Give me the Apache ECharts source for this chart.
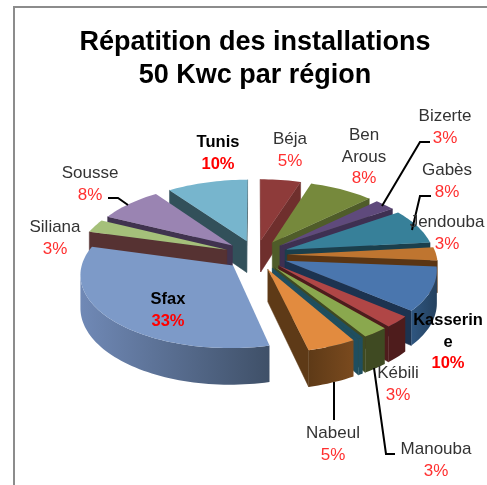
<!DOCTYPE html>
<html>
<head>
<meta charset="utf-8">
<title>Répatition des installations</title>
<style>
html,body{margin:0;padding:0;background:#fff;}
#pieChart{width:487px;height:485px;}
</style>
<script src="https://cdn.jsdelivr.net/npm/echarts@6/dist/echarts.min.js"></script>
</head>
<body>
<div id="pieChart"></div>
<script>
var titleText = 'Répatition des installations\n50 Kwc par région';
// clockwise from the top, the empty name is the thin unlabelled slice
var categories = ['Béja', 'Ben\nArous', 'Bizerte', 'Gabès', 'Jendouba', 'Kasserin\ne', 'Kébili', 'Manouba', '', 'Nabeul', 'Sfax', 'Siliana', 'Sousse', 'Tunis'];
// shares, the labels show them rounded
var values = [5, 8, 2.6, 8, 3, 10, 2.6, 2.5, 0.5, 4.7, 33.4, 3, 8, 10];
var boldNames = ['Kasserin\ne', 'Sfax', 'Tunis'];

var topColors = ['#8e3b3a', '#76893c', '#5f4a7c', '#378099', '#bf7530', '#4a76ae', '#b04646', '#8aa84e', '#1f4e5f', '#e28b3f', '#7d9ac8', '#a5c07a', '#9a84b2', '#77b5cd'];
var wallColors = ['#6f2f2d', '#4f5c29', '#3e3052', '#1b3f4c', '#5a3513', '#1c3350', '#4e1c1c', '#3f4a22', '#1f4e5f', '#5e3a17', '#3f5068', '#563232', '#40334f', '#32505a'];
var rimColors = [
    ['#7a3332', '#7a3332'], ['#4f5c29', '#4f5c29'], ['#3e3052', '#3e3052'], ['#1b3f4c', '#2b6072'],
    ['#5a3513', '#8a5522'], ['#2f5680', '#24415f'], ['#4e1c1c', '#4e1c1c'], ['#3f4a22', '#3f4a22'],
    ['#1f4e5f', '#1f4e5f'], ['#5e3a17', '#7a4a1e'], ['#7089b6', '#3f5068'], ['#563232', '#563232'],
    ['#40334f', '#40334f'], ['#32505a', '#32505a']
];

// centre of the block [name, top of text]
var labelPos = [
    [290, 129], [364, 125], [445, 106], [447, 160], [447, 212], [448, 310], [398, 363],
    [436, 439], null, [333, 423], [168, 289], [55, 217], [90, 163], [218, 132]
];
var leaderLines = [
    [[108, 198], [118, 198], [128, 205]],
    [[430, 142], [420, 142], [382, 206]],
    [[431, 196], [420, 196], [412, 230]],
    [[395, 454], [386, 454], [374, 368]],
    [[334, 382], [334, 420]]
];

var pie = {cx: 256, cy: 255, rx: 149, ry: 71, k: 0.11, depth: 32, explode: 0.21};

function project(u, v, drop) {
    var s = 1 / (1 - pie.k * v);
    return [pie.cx + pie.rx * u * s, pie.cy + (pie.ry * v + (drop ? pie.depth : 0)) * s];
}

var total = 0;
for (var i = 0; i < values.length; i++) {
    total += values[i];
}

function sliceAngles(index) {
    var before = 0;
    for (var j = 0; j < index; j++) {
        before += values[j];
    }
    return [before / total * Math.PI * 2, (before + values[index]) / total * Math.PI * 2];
}

function wall(discA, discB, color) {
    return {
        type: 'polygon',
        shape: {points: [
            project(discA[0], discA[1]), project(discB[0], discB[1]),
            project(discB[0], discB[1], true), project(discA[0], discA[1], true)
        ]},
        style: {fill: color, stroke: color, lineWidth: 0.5}
    };
}

function renderSlice(params, api) {
    var index = params.dataIndex;
    var angles = sliceAngles(index);
    var mid = (angles[0] + angles[1]) / 2;
    var ox = Math.sin(mid) * pie.explode;
    var oy = -Math.cos(mid) * pie.explode;
    var tip = [ox, oy];
    var arc = [];
    var steps = Math.max(4, Math.round((angles[1] - angles[0]) / 0.03));
    for (var n = 0; n <= steps; n++) {
        var a = angles[0] + (angles[1] - angles[0]) * n / steps;
        arc.push([ox + Math.sin(a), oy - Math.cos(a)]);
    }
    var children = [];
    // only edges going left on screen face the viewer
    var first = arc[0];
    var last = arc[arc.length - 1];
    if (project(first[0], first[1])[0] < project(tip[0], tip[1])[0]) {
        children.push(wall(tip, first, wallColors[index]));
    }
    if (project(tip[0], tip[1])[0] < project(last[0], last[1])[0]) {
        children.push(wall(last, tip, wallColors[index]));
    }
    var upper = [];
    var lower = [];
    for (var m = 1; m < arc.length; m++) {
        if (project(arc[m][0], arc[m][1])[0] < project(arc[m - 1][0], arc[m - 1][1])[0]) {
            if (upper.length === 0) {
                upper.push(project(arc[m - 1][0], arc[m - 1][1]));
                lower.push(project(arc[m - 1][0], arc[m - 1][1], true));
            }
            upper.push(project(arc[m][0], arc[m][1]));
            lower.push(project(arc[m][0], arc[m][1], true));
        }
    }
    if (upper.length) {
        children.push({
            type: 'polygon',
            shape: {points: upper.concat(lower.reverse())},
            style: {fill: new echarts.graphic.LinearGradient(0, 0, 1, 0, [
                {offset: 0, color: rimColors[index][0]},
                {offset: 1, color: rimColors[index][1]}
            ])}
        });
    }
    var face = [project(tip[0], tip[1])];
    for (var f = 0; f < arc.length; f++) {
        face.push(project(arc[f][0], arc[f][1]));
    }
    children.push({
        type: 'polygon',
        shape: {points: face},
        style: {fill: topColors[index]}
    });
    // back slices first
    var depthRank = Math.round((1 - Math.cos(mid)) * 100);
    for (var c = 0; c < children.length; c++) {
        children[c].z2 = depthRank * 4 + c;
    }
    return {type: 'group', children: children};
}

function buildGraphics() {
    var list = [
        {type: 'polyline', shape: {points: [[14, 485], [14, 7], [487, 7]]}, style: {stroke: '#8c8c8c', lineWidth: 2, fill: null}}
    ];
    for (var l = 0; l < leaderLines.length; l++) {
        list.push({type: 'polyline', shape: {points: leaderLines[l]}, style: {stroke: '#000', lineWidth: 2, fill: null}, z: 10});
    }
    for (var i = 0; i < categories.length; i++) {
        if (!labelPos[i]) {
            continue;
        }
        var bold = boldNames.indexOf(categories[i]) >= 0;
        var lines = categories[i].split('\n');
        var nameKey = bold ? 'nb' : 'n';
        var percentKey = bold ? 'pb' : 'p';
        var text = lines.map(function (line) {
            return '{' + nameKey + '|' + line + '}';
        }).join('\n') + '\n{' + percentKey + '|' + Math.round(values[i]) + '%}';
        list.push({
            type: 'text',
            z: 20,
            style: {
                x: labelPos[i][0],
                y: labelPos[i][1],
                text: text,
                align: 'center',
                verticalAlign: 'top',
                rich: {
                    n: {fontFamily: 'Liberation Sans', fontSize: 17, lineHeight: 21.5, fill: '#333', align: 'center'},
                    nb: {fontFamily: 'Liberation Sans', fontSize: 16.5, lineHeight: 21.5, fontWeight: 'bold', fill: '#000', align: 'center'},
                    p: {fontFamily: 'Liberation Sans', fontSize: 17, lineHeight: 21.5, fill: '#ff2f2f', align: 'center'},
                    pb: {fontFamily: 'Liberation Sans', fontSize: 16.5, lineHeight: 21.5, fontWeight: 'bold', fill: '#ff0000', align: 'center'}
                }
            }
        });
    }
    return list;
}

var myChart = echarts.init(document.getElementById('pieChart'), null, {renderer: 'canvas'});
var option = {
    backgroundColor: '#fff',
    animation: false,
    title: {
        text: titleText,
        left: 250,
        top: 21,
        textAlign: 'center',
        textStyle: {
            fontFamily: 'Liberation Sans',
            fontSize: 27,
            fontWeight: 'bold',
            lineHeight: 33,
            color: '#000'
        }
    },
    graphic: {elements: buildGraphics()},
    series: [{
        type: 'custom',
        coordinateSystem: 'none',
        renderItem: renderSlice,
        data: values
    }]
};
myChart.setOption(option);
</script>
</body>
</html>
